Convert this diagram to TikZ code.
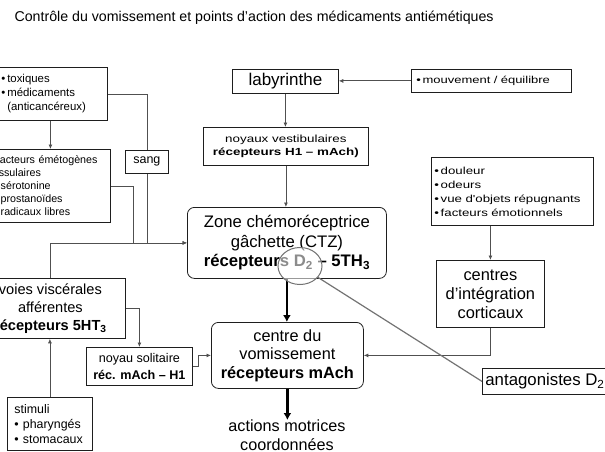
\documentclass[tikz,border=0pt]{standalone}
\usepackage{fontspec}
\setmainfont{Liberation Sans}
\newfontfamily\widesf{Liberation Sans}[FakeStretch=1.3]
\usetikzlibrary{arrows.meta,positioning,calc,shapes.geometric}
\definecolor{lineg}{RGB}{80,80,80}
\definecolor{edgek}{RGB}{30,30,30}
\newcommand{\fs}[2]{\fontsize{#1}{#2}\selectfont}
\tikzset{
  box/.style={draw=edgek,fill=white,anchor=north west,inner sep=2pt,align=center,line width=0.8pt},
  rbox/.style={box,rounded corners=7pt},
  arr/.style={-{Latex[length=4.5pt,width=4pt]},lineg,line width=0.8pt},
  link/.style={lineg,line width=0.8pt},
  bigarr/.style={-{Latex[length=7pt,width=8pt]},black,line width=2.2pt}
}

\begin{document}
\begin{tikzpicture}[x=1pt,y=-1pt,
  list/.style={box,align=left,inner sep=3pt},
  lens/.style={ellipse,draw=black!55,line width=1pt,fill=white,fill opacity=0.55,
               minimum width=44pt,minimum height=37pt,inner sep=0pt},
  lensline/.style={black!55,line width=1.2pt}]
  \useasboundingbox (0,0) rectangle (605,452);
  \node[anchor=west,font=\fs{14.2}{17}] (title) at (11,18)
    {Contrôle du vomissement et points d'action des médicaments antiémétiques};
  % left column
  \node[list,text width=103pt,minimum height=53pt,font=\fs{11.4}{14}] (tox) at (-2,67)
    {\textbullet\,toxiques\\\textbullet\,médicaments\\\phantom{\textbullet\,}(anticancéreux)};
  \node[list,text width=114pt,minimum height=73pt,font=\fs{10.7}{13}] (fac) at (-10,149)
    {Facteurs émétogènes\\tissulaires\\\textbullet\ sérotonine\\\textbullet\ prostanoïdes\\\textbullet\ radicaux libres};
  \node[box,minimum width=43pt,minimum height=23pt,font=\fs{12.5}{14}] (sang) at (125,150) {sang};
  \node[box,inner sep=1pt,minimum width=150pt,minimum height=60pt,font=\fs{14.6}{18}] (voies) at (-25,278)
    {voies viscérales\\afférentes\\\textbf{récepteurs 5HT\textsubscript{3}}};
  \node[box,minimum width=106pt,minimum height=38pt,font=\fs{12.6}{17}] (noysol) at (86,347)
    {noyau solitaire\\\textbf{réc. mAch – H1}};
  \node[list,inner xsep=7pt,text width=71pt,minimum height=53pt,font=\fs{12.4}{15}] (stimuli) at (7,397)
    {stimuli\\\textbullet\ pharyngés\\\textbullet\ stomacaux};
  % centre column
  \node[box,minimum width=106pt,minimum height=24pt,font=\fs{17}{18}] (lab) at (232,69) {labyrinthe};
  \node[box,minimum width=165pt,minimum height=38pt,font=\widesf\fs{10.3}{12.5}] (noyvest) at (203,127)
    {noyaux vestibulaires\\\textbf{récepteurs H1 – mAch)}};
  \node[rbox,minimum width=199pt,minimum height=71pt,font=\fs{16.7}{19.5}] (ctz) at (187,207)
    {Zone chémoréceptrice\\gâchette (CTZ)\\\textbf{récepteurs D\textsubscript{2} – 5TH\textsubscript{3}}};
  \node[rbox,minimum width=152pt,minimum height=66pt,font=\fs{16.3}{18.5}] (centre) at (211,322)
    {centre du\\vomissement\\\textbf{récepteurs mAch}};
  \node[anchor=north,align=center,inner sep=0pt,font=\fs{16.2}{19}] (actions) at (287,420)
    {actions motrices\\coordonnées};
  % right column
  \node[list,inner xsep=5pt,text width=150pt,minimum height=23pt,font=\widesf\fs{10}{12}] (mouv) at (411,69)
    {\textbullet\,mouvement / équilibre};
  \node[list,text width=156pt,minimum height=68pt,font=\widesf\fs{10.2}{14}] (douleur) at (431,157)
    {\textbullet\,douleur\\\textbullet\,odeurs\\\textbullet\,vue d'objets répugnants\\\textbullet\,facteurs émotionnels};
  \node[box,minimum width=108pt,minimum height=67pt,font=\fs{16.4}{19}] (centres) at (436,260)
    {centres\\d'intégration\\corticaux};
  \node[box,inner xsep=3pt,minimum height=26pt,font=\fs{16.8}{18}] (antag) at (482,368)
    {antagonistes D\textsubscript{2}};
  % connectors
  \draw[link] (tox.east) -| (sang.north);
  \draw[arr] (sang.south) |- (ctz.west);
  \draw[link] (fac.east) -| ([xshift=23pt]fac.east |- ctz.west);
  \draw[arr] (voies.north) |- (ctz.west);
  \draw[arr] (fac.north |- tox.south) -- (fac.north);
  \draw[arr] (mouv.west) -- (mouv.west -| lab.east);
  \draw[arr] (lab.south) -- (lab.south |- noyvest.north);
  \draw[arr] (noyvest.south) -- (noyvest.south |- ctz.north);
  \draw[bigarr] (ctz.south) -- (ctz.south |- centre.north);
  \draw[bigarr] (centre.south) -- (centre.south |- actions.north);
  \draw[arr] (centres.north |- douleur.south) -- (centres.north);
  \draw[arr] (centres.south) |- (centre.east);
  \draw[arr] (voies.east) -| (noysol.north);
  \draw[arr] (noysol.east) -- ++(6,0) |- (centre.west);
  \draw[arr] (stimuli.north) -- (stimuli.north |- voies.south);
  % lens on the D2 receptors
  \node[lens] (lens) at (300,266) {};
  \draw[lensline] (lens) -- (antag.west);
\end{tikzpicture}
\end{document}
